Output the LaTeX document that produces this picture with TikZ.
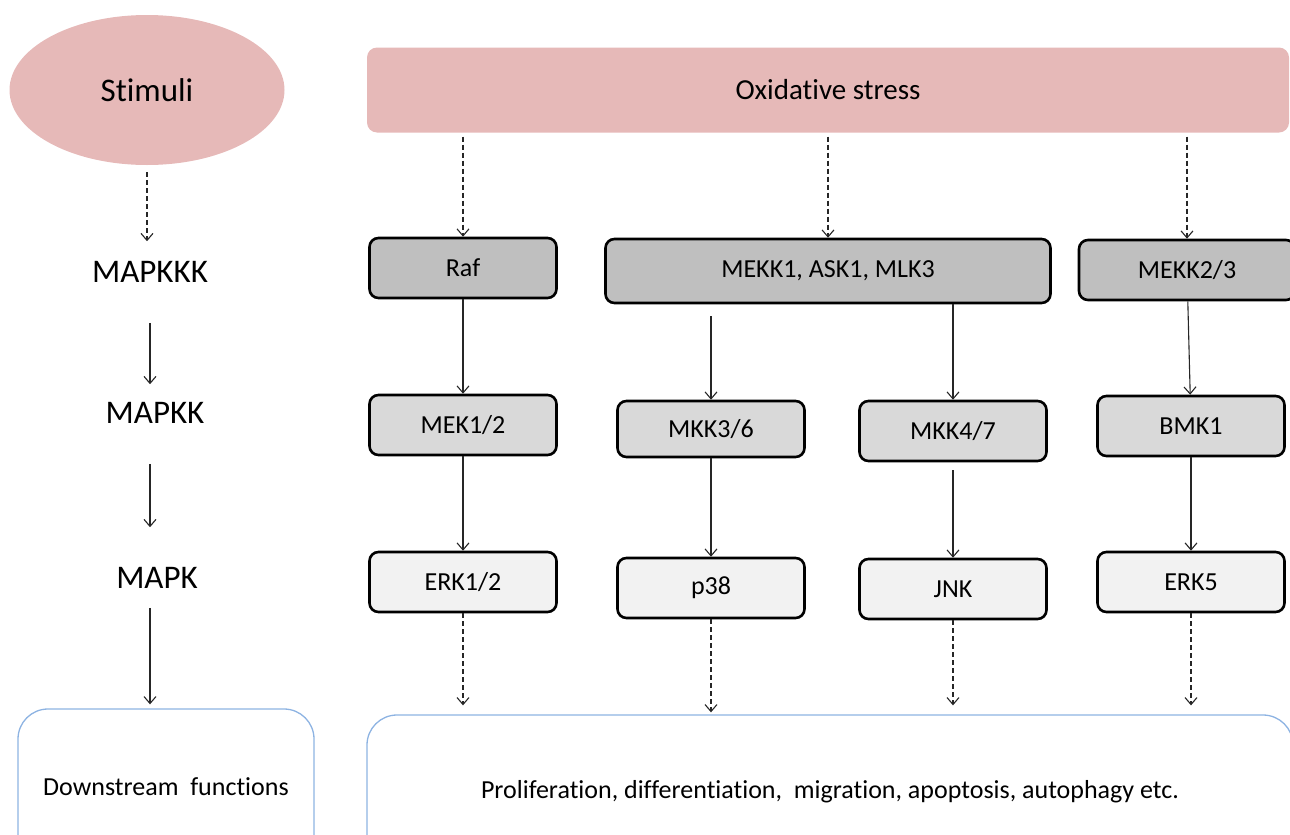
\documentclass[tikz,border=0pt]{standalone}
\usepackage{fontspec}
\setmainfont{Carlito}[Ligatures=NoCommon]
\usetikzlibrary{arrows.meta}
\usetikzlibrary{positioning}
\usetikzlibrary{shapes.geometric}

\definecolor{stresspink}{HTML}{E6B9B8}
\definecolor{tieronegray}{HTML}{BFBFBF}
\definecolor{tiertwogray}{HTML}{D9D9D9}
\definecolor{tierthreegray}{HTML}{F2F2F2}
\definecolor{fateblue}{HTML}{8DB3E2}

\begin{document}
\begin{tikzpicture}[x=1pt,y=-1pt,>={Straight Barb[length=7pt,width=12pt]},
    trigger/.style={fill=stresspink,inner sep=0pt,font=\fontsize{29}{33}\selectfont},
    level/.style={inner sep=0pt,font=\fontsize{33}{37}\selectfont},
    kinase/.style={draw=black,line width=2.6pt,rounded corners=9pt,inner sep=0pt,
        minimum width=187pt,minimum height=60pt,font=\fontsize{26}{30}\selectfont},
    tierone/.style={kinase,fill=tieronegray},
    tiertwo/.style={kinase,fill=tiertwogray},
    tierthree/.style={kinase,fill=tierthreegray},
    outcome/.style={draw=fateblue,line width=1.3pt,rounded corners=30pt,inner sep=0pt,
        font=\fontsize{26}{30}\selectfont},
    link/.style={->,line width=1.1pt,black!85},
    dashlink/.style={link,dash pattern=on 5pt off 3pt}]
    \useasboundingbox (0,0) rectangle (1290,835);
    \clip (0,0) rectangle (1290,835);

    \node (Stim) [trigger,ellipse,minimum width=275pt,minimum height=150pt,font=\fontsize{33}{37}\selectfont] at (147,90) {Stimuli};
    \node (MAPKKK) [level] at (150,272) {MAPKKK};
    \node (MAPKK) [level] at (155,413) {MAPKK};
    \node (MAPK) [level] at (157,578) {MAPK};
    \node (Down) [outcome,minimum width=296pt,minimum height=156pt] at (166,787) {Downstream\ \ functions};

    \node (Ox) [trigger,rounded corners=10pt,minimum width=922pt,minimum height=85pt] at (828,90) {Oxidative stress};

    \node (Raf) [tierone] at (463,268) {Raf};
    \node (MEKK) [tierone,minimum width=445pt,minimum height=64pt] at (828,271) {MEKK1, ASK1, MLK3};
    \node (MEKKb) [tierone,minimum width=216pt] at (1187,270) {MEKK2/3};

    \node (MEK) [tiertwo] at (463,425) {MEK1/2};
    \node (MKKa) [tiertwo,minimum height=56pt] at (711,429) {MKK3/6};
    \node (MKKb) [tiertwo] at (953,431) {MKK4/7};
    \node (BMK) [tiertwo] at (1191,426) {BMK1};

    \node (ERK) [tierthree] at (463,582) {ERK1/2};
    \node (p38) [tierthree] at (711,588) {p38};
    \node (JNK) [tierthree] at (953,589) {JNK};
    \node (ERKv) [tierthree] at (1191,582) {ERK5};

    \node (Fate) [outcome,minimum width=926pt,minimum height=154pt] at (830,792) {Proliferation, differentiation,\ \ migration, apoptosis, autophagy etc.};

    \draw[dashlink,shorten <=7pt,shorten >=20pt] (Stim.south) -- (Stim.south |- MAPKKK.north);
    \draw[link,shorten <=40pt,shorten >=18pt] (MAPKKK.south) -- (MAPKKK.south |- MAPKK.north);
    \draw[link,shorten <=40pt,shorten >=40pt] (MAPKK.south -| MAPKKK) -- (MAPKKK |- MAPK.north);
    \draw[link,shorten <=19pt,shorten >=4pt] (MAPK.south -| MAPKKK) -- (MAPKKK |- Down.north);

    \draw[dashlink,shorten <=4pt] (Ox.south -| Raf) -- (Raf);
    \draw[dashlink,shorten <=4pt] (Ox.south -| MEKK) -- (MEKK);
    \draw[dashlink,shorten <=4pt] (Ox.south -| MEKKb) -- (MEKKb);

    \draw[link] (Raf) -- (MEK);
    \draw[link,shorten <=12pt] (MEKK.south -| MKKa) -- (MKKa);
    \draw[link] (MEKK.south -| MKKb) -- (MKKb);
    \draw[link] (MEKKb) -- (BMK);

    \draw[link] (MEK) -- (ERK);
    \draw[link] (MKKa) -- (p38);
    \draw[link,shorten <=8pt] (MKKb) -- (JNK);
    \draw[link] (BMK) -- (ERKv);

    \draw[dashlink,shorten >=9pt] (ERK.south) -- (ERK.south |- Fate.north);
    \draw[dashlink,shorten >=2pt] (p38.south) -- (p38.south |- Fate.north);
    \draw[dashlink,shorten >=9pt] (JNK.south) -- (JNK.south |- Fate.north);
    \draw[dashlink,shorten >=9pt] (ERKv.south) -- (ERKv.south |- Fate.north);
\end{tikzpicture}
\end{document}
